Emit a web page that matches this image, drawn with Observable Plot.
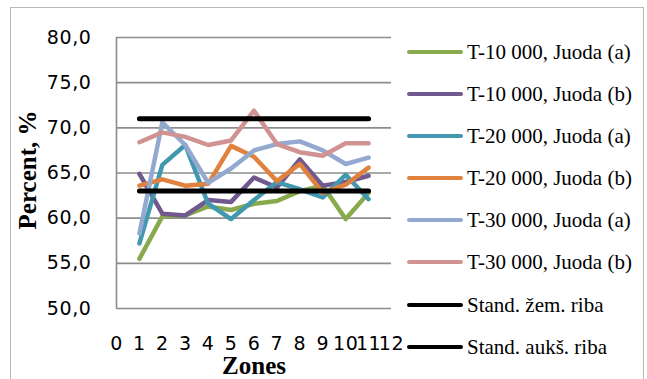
<!DOCTYPE html>
<html>
<head>
<meta charset="utf-8">
<script src="https://cdn.jsdelivr.net/npm/d3@7"></script>
<script src="https://cdn.jsdelivr.net/npm/@observablehq/plot@0.6"></script>
<style>
  html, body { margin: 0; padding: 0; background: #fff; }
  #chart { position: relative; width: 647px; height: 379px; overflow: hidden; background: #fff; }
  #frame { position: absolute; left: 10px; top: 7px; width: 634px; height: 400px; border: 1px solid #b8b8b8; box-sizing: border-box; }
  #plot { position: absolute; left: 0; top: 0; }
  #plot svg text { letter-spacing: 0.6px; }
  .ytitle { position: absolute; left: 28px; top: 170px; transform: translate(-50%, -50%) rotate(-90deg); line-height: 1;
            font: bold 25px "Liberation Serif", "Times New Roman", serif; white-space: nowrap; color: #000; }
  .xtitle { position: absolute; left: 254px; top: 352px; transform: translateX(-50%); line-height: 1;
            font: bold 25px "Liberation Serif", "Times New Roman", serif; white-space: nowrap; color: #000; }
  #legend { position: absolute; left: 405px; top: 0; }
  .item { position: absolute; left: 0; height: 24px; width: 240px; display: flex; align-items: center; transform: translateY(-50%);
          font: 21px "Liberation Serif", "Times New Roman", serif; color: #000; white-space: nowrap; }
  .sw { width: 56px; height: 4px; border-radius: 2px; margin-left: 2px; margin-right: 4px; flex: none; }
</style>
</head>
<body>
<div id="chart">
  <div id="frame"></div>
  <div id="plot"></div>
  <div class="ytitle">Percent, %</div>
  <div class="xtitle">Zones</div>
  <div id="legend"></div>
</div>
<script>
// Zones along the stream
const zones = [1, 2, 3, 4, 5, 6, 7, 8, 9, 10, 11];

// Series names (legend order)
const seriesNames = [
  "T-10 000, Juoda (a)",
  "T-10 000, Juoda (b)",
  "T-20 000, Juoda (a)",
  "T-20 000, Juoda (b)",
  "T-30 000, Juoda (a)",
  "T-30 000, Juoda (b)",
  "Stand. žem. riba",
  "Stand. aukš. riba"
];
const seriesColors = ["#88a94c", "#71598f", "#4198af", "#e0823d", "#94a9d0", "#d09392", "#000000", "#000000"];

// Percent values per zone
const t10a = [55.5, 60.2, 60.3, 61.3, 60.9, 61.6, 61.9, 63.0, 63.6, 59.9, 62.8];
const t10b = [64.9, 60.5, 60.3, 62.0, 61.8, 64.5, 63.4, 66.5, 63.6, 64.0, 64.7];
const t20a = [57.2, 65.9, 68.1, 61.6, 59.9, 62.0, 64.0, 63.2, 62.3, 64.8, 62.1];
const t20b = [63.6, 64.3, 63.6, 63.8, 68.0, 66.8, 64.1, 66.0, 62.8, 63.7, 65.6];
const t30a = [58.3, 70.6, 68.1, 63.9, 65.5, 67.5, 68.2, 68.5, 67.5, 66.0, 66.7];
const t30b = [68.4, 69.5, 69.0, 68.1, 68.6, 71.9, 68.2, 67.3, 66.9, 68.3, 68.3];

// Standard limits (lower / upper)
const stdLower = 63;
const stdUpper = 71;

// Axis ticks
const xTicks = [0, 1, 2, 3, 4, 5, 6, 7, 8, 9, 10, 11, 12];
const yTicks = [50, 55, 60, 65, 70, 75, 80];

const seriesValues = [t10a, t10b, t20a, t20b, t30a, t30b];
const rows = [];
seriesValues.forEach((vals, s) => {
  zones.forEach((z, i) => rows.push({ zone: z, value: vals[i], series: seriesNames[s] }));
});
const limitRows = [];
[stdLower, stdUpper].forEach((v, k) => {
  [zones[0], zones[zones.length - 1]].forEach(z => limitRows.push({ zone: z, value: v, series: seriesNames[6 + k] }));
});

const fmt = d => d.toFixed(1).replace(".", ",");

const chart = Plot.plot({
  width: 412,
  height: 379,
  marginLeft: 116,
  marginRight: 21,
  marginTop: 37,
  marginBottom: 71,
  style: { fontFamily: "'DejaVu Sans', Verdana, sans-serif", fontSize: "19px", color: "#000", background: "transparent" },
  x: { domain: [0, 12] },
  y: { domain: [50, 80] },
  color: { domain: seriesNames, range: seriesColors },
  marks: [
    Plot.gridY(yTicks, { stroke: "#8c8c8c", strokeOpacity: 1, strokeWidth: 1.6 }),
    Plot.ruleX([0], { stroke: "#8c8c8c", strokeWidth: 1.6 }),
    Plot.axisY(yTicks, { tickSize: 0, tickPadding: 25, tickFormat: fmt, label: null, fontSize: 19 }),
    Plot.axisX(xTicks, { tickSize: 0, tickPadding: 28, tickFormat: d => String(d), label: null, fontSize: 19 }),
    Plot.line(rows, { x: "zone", y: "value", z: "series", stroke: "series", strokeWidth: 4.5, strokeLinejoin: "round", strokeLinecap: "round" }),
    Plot.line(limitRows, { x: "zone", y: "value", z: "series", stroke: "series", strokeWidth: 5, strokeLinecap: "round" })
  ]
});
document.getElementById("plot").appendChild(chart);

// Legend at the right
const legend = document.getElementById("legend");
const legendY = [52, 94, 136, 178, 220, 262, 305, 347];
seriesNames.forEach((name, i) => {
  const item = document.createElement("div");
  item.className = "item";
  item.style.top = legendY[i] + "px";
  const sw = document.createElement("span");
  sw.className = "sw";
  sw.style.background = seriesColors[i];
  const label = document.createElement("span");
  label.textContent = name;
  item.appendChild(sw);
  item.appendChild(label);
  legend.appendChild(item);
});
</script>
</body>
</html>
